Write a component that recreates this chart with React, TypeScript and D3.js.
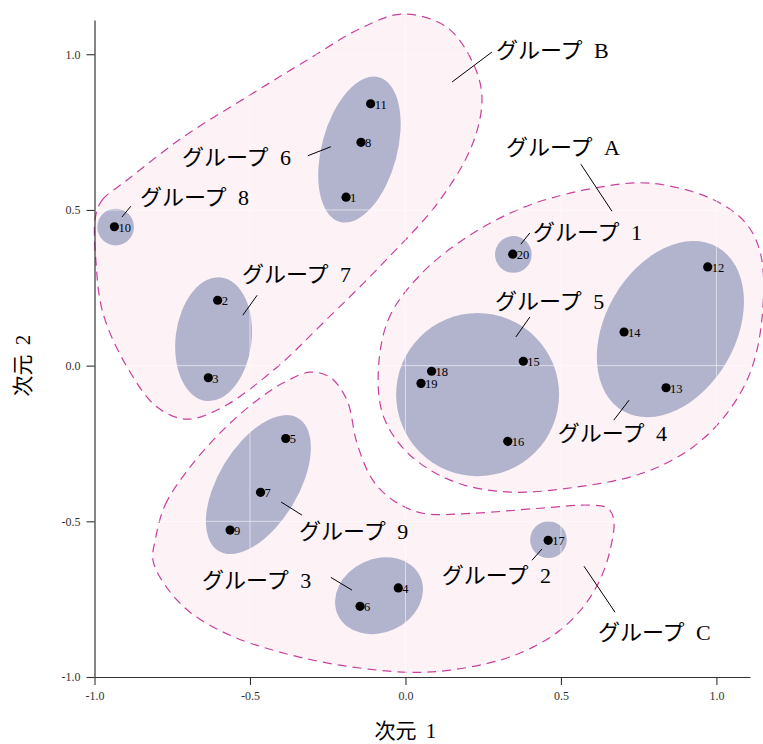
import React, { useEffect, useRef } from "react";
import * as d3 from "d3";

// observations (dimension 1, dimension 2)
const pointIds = [1, 2, 3, 4, 5, 6, 7, 8, 9, 10, 11, 12, 13, 14, 15, 16, 17, 18, 19, 20];
const pointX = [-0.191, -0.604, -0.634, -0.023, -0.385, -0.146, -0.466, -0.143, -0.564, -0.936,
  -0.112, 0.972, 0.838, 0.703, 0.379, 0.329, 0.459, 0.084, 0.05, 0.345];
const pointY = [0.541, 0.21, -0.039, -0.714, -0.234, -0.773, -0.407, 0.717, -0.528, 0.446,
  0.841, 0.317, -0.071, 0.108, 0.014, -0.243, -0.561, -0.018, -0.057, 0.358];

// small groups drawn as ellipses: centre, semi-axes, major-axis angle (deg)
const ellipseNames = ["1", "2", "3", "4", "5", "6", "7", "8", "9"];
const ellipseCx = [0.347, 0.46, -0.085, 0.852, 0.232, -0.148, -0.617, -0.932, -0.473];
const ellipseCy = [0.357, -0.559, -0.739, 0.117, -0.093, 0.694, 0.085, 0.445, -0.382];
const ellipseA = [0.059, 0.059, 0.146, 0.304, 0.262, 0.241, 0.2, 0.059, 0.249];
const ellipseB = [0.059, 0.059, 0.118, 0.209, 0.262, 0.121, 0.122, 0.059, 0.128];
const ellipseAngle = [0, 0, 25, 60, 0, 75, 83, 0, 59];

// large groups: outline of each hull
const hullA = [[-0.088, -0.047], [-0.056, 0.146], [0.047, 0.291], [0.207, 0.419], [0.4, 0.516],
  [0.625, 0.573], [0.786, 0.586], [0.979, 0.538], [1.092, 0.461], [1.143, 0.355], [1.146, 0.146],
  [1.108, -0.024], [1.034, -0.153], [0.924, -0.262], [0.764, -0.345], [0.551, -0.39],
  [0.336, -0.406], [0.159, -0.374], [0.014, -0.287], [-0.066, -0.175]];
const hullB = [[-0.997, 0.477], [-0.975, 0.532], [-0.895, 0.596], [-0.715, 0.734], [-0.5, 0.869],
  [-0.317, 0.981], [-0.137, 1.087], [-0.008, 1.129], [0.133, 1.087], [0.217, 0.972],
  [0.246, 0.862], [0.217, 0.715], [0.111, 0.532], [-0.072, 0.329], [-0.265, 0.137],
  [-0.413, -0.005], [-0.587, -0.133], [-0.703, -0.172], [-0.799, -0.133], [-0.895, -0.005],
  [-0.973, 0.169], [-0.995, 0.329]];
const hullC = [[-0.805, -0.561], [-0.773, -0.448], [-0.693, -0.326], [-0.587, -0.207],
  [-0.477, -0.111], [-0.394, -0.056], [-0.307, -0.021], [-0.243, -0.037], [-0.188, -0.111],
  [-0.156, -0.249], [-0.105, -0.368], [-0.04, -0.432], [0.056, -0.474], [0.217, -0.474],
  [0.432, -0.458], [0.593, -0.448], [0.651, -0.458], [0.67, -0.496], [0.658, -0.593],
  [0.625, -0.689], [0.571, -0.776], [0.497, -0.85], [0.41, -0.904], [0.304, -0.946],
  [0.143, -0.978], [0.014, -0.985], [-0.211, -0.962], [-0.404, -0.92], [-0.564, -0.866],
  [-0.693, -0.792], [-0.773, -0.705], [-0.812, -0.625]];
const hulls = [hullA, hullB, hullC];

// group labels with leader lines
const labelText = ["グループ B", "グループ 6", "グループ 8", "グループ 7", "グループ A", "グループ 1",
  "グループ 5", "グループ 4", "グループ 9", "グループ 3", "グループ 2", "グループ C"];
const labelX = [0.291, -0.719, -0.854, -0.526, 0.323, 0.41, 0.288, 0.49, -0.342, -0.654, 0.117, 0.619];
const labelY = [1.013, 0.67, 0.541, 0.294, 0.699, 0.426, 0.207, -0.217, -0.532, -0.689, -0.673, -0.856];
const leaderFrom = [[0.15, 0.911], [-0.314, 0.674], [-0.912, 0.477], [-0.523, 0.162], [0.564, 0.647],
  [0.371, 0.39], [0.355, 0.092], [0.67, -0.175], [-0.4, -0.438], [-0.24, -0.68], [0.407, -0.625],
  [0.574, -0.644]];
const leaderTo = [[0.278, 1.007], [-0.24, 0.703], [-0.883, 0.512], [-0.477, 0.226], [0.664, 0.496],
  [0.4, 0.426], [0.4, 0.156], [0.719, -0.111], [-0.333, -0.48], [-0.172, -0.721], [0.439, -0.589],
  [0.674, -0.792]];

const tickValues = [-1, -0.5, 0, 0.5, 1];

const W = 763;
const H = 744;
const serif = "'Liberation Serif', 'Times New Roman', serif";
const labelFont = "'Liberation Serif', 'Noto Sans CJK JP', serif";

export default function App() {
  const ref = useRef<SVGSVGElement>(null);

  useEffect(() => {
    const svg = d3.select(ref.current);
    svg.selectAll("*").remove();

    const x = d3.scaleLinear().domain([-1, 1.108]).range([94.5, 750]);
    const y = d3.scaleLinear().domain([-1, 1.11]).range([677, 20]);
    const kx = x(1) - x(0);
    const ky = y(0) - y(1);

    // hulls
    const hullLine = d3.line<number[]>()
      .x(d => x(d[0]))
      .y(d => y(d[1]))
      .curve(d3.curveCatmullRomClosed.alpha(0.5));

    svg.append("g")
      .selectAll("path")
      .data(hulls)
      .join("path")
      .attr("d", d => hullLine(d))
      .attr("fill", "#fdf2f6")
      .attr("stroke", "#c8409c")
      .attr("stroke-width", 1.2)
      .attr("stroke-dasharray", "9,6");

    // ellipses
    svg.append("g")
      .selectAll("ellipse")
      .data(ellipseNames)
      .join("ellipse")
      .attr("transform", (d, i) => `translate(${x(ellipseCx[i])},${y(ellipseCy[i])}) rotate(${-ellipseAngle[i]})`)
      .attr("rx", (d, i) => ellipseA[i] * kx)
      .attr("ry", (d, i) => ellipseB[i] * ky)
      .attr("fill", "#b2b4ce");

    // grid lines (only visible over the filled areas)
    const grid = svg.append("g").attr("stroke", "#ffffff").attr("stroke-opacity", 0.55).attr("stroke-width", 1);
    grid.selectAll("line.v")
      .data(tickValues.filter(v => v > -1))
      .join("line")
      .attr("class", "v")
      .attr("x1", d => x(d)).attr("x2", d => x(d))
      .attr("y1", y(-1)).attr("y2", y(1.11));
    grid.selectAll("line.h")
      .data(tickValues.filter(v => v > -1))
      .join("line")
      .attr("class", "h")
      .attr("x1", x(-1)).attr("x2", x(1.108))
      .attr("y1", d => y(d)).attr("y2", d => y(d));

    // axes
    const fmt = (v: d3.NumberValue) => (+v).toFixed(1);
    const xAxis = svg.append("g")
      .attr("transform", `translate(0,${y(-1)})`)
      .call(d3.axisBottom(x).tickValues(tickValues).tickFormat(fmt).tickSizeOuter(0).tickSizeInner(8).tickPadding(6));
    const yAxis = svg.append("g")
      .attr("transform", `translate(${x(-1)},0)`)
      .call(d3.axisLeft(y).tickValues(tickValues).tickFormat(fmt).tickSizeOuter(0).tickSizeInner(8).tickPadding(6));
    [xAxis, yAxis].forEach(ax => {
      ax.select(".domain").attr("stroke", "#333").attr("stroke-width", 1.2);
      ax.selectAll(".tick line").attr("stroke", "#333").attr("stroke-width", 1.1);
      ax.selectAll(".tick text").attr("fill", "#333").style("font-family", serif).style("font-size", "12px");
    });

    svg.append("text")
      .attr("x", x(0))
      .attr("y", 738)
      .attr("text-anchor", "middle")
      .style("font-family", labelFont)
      .style("font-size", "21px")
      .style("word-spacing", "4px")
      .text("次元 1");
    svg.append("text")
      .attr("transform", `translate(30,${y(0)}) rotate(-90)`)
      .attr("text-anchor", "middle")
      .style("font-family", labelFont)
      .style("font-size", "21px")
      .style("word-spacing", "4px")
      .text("次元 2");

    // leader lines
    svg.append("g")
      .selectAll("line")
      .data(labelText)
      .join("line")
      .attr("x1", (d, i) => x(leaderFrom[i][0]))
      .attr("y1", (d, i) => y(leaderFrom[i][1]))
      .attr("x2", (d, i) => x(leaderTo[i][0]))
      .attr("y2", (d, i) => y(leaderTo[i][1]))
      .attr("stroke", "#000")
      .attr("stroke-width", 1);

    // points
    svg.append("g")
      .selectAll("circle")
      .data(pointIds)
      .join("circle")
      .attr("cx", (d, i) => x(pointX[i]))
      .attr("cy", (d, i) => y(pointY[i]))
      .attr("r", 4.6)
      .attr("fill", "#000");

    svg.append("g")
      .selectAll("text")
      .data(pointIds)
      .join("text")
      .attr("x", (d, i) => x(pointX[i]) + 4)
      .attr("y", (d, i) => y(pointY[i]) + 1)
      .attr("dominant-baseline", "central")
      .style("font-family", serif)
      .style("font-size", "12.5px")
      .text(d => d);

    // group labels
    svg.append("g")
      .selectAll("text")
      .data(labelText)
      .join("text")
      .attr("x", (d, i) => x(labelX[i]))
      .attr("y", (d, i) => y(labelY[i]))
      .attr("dominant-baseline", "central")
      .style("font-family", labelFont)
      .style("font-size", "22px")
      .style("word-spacing", "6px")
      .text(d => d);
  }, []);

  return (
    <svg
      ref={ref}
      width={W}
      height={H}
      style={{ position: "absolute", left: 0, top: 0, background: "#fff" }}
    />
  );
}
